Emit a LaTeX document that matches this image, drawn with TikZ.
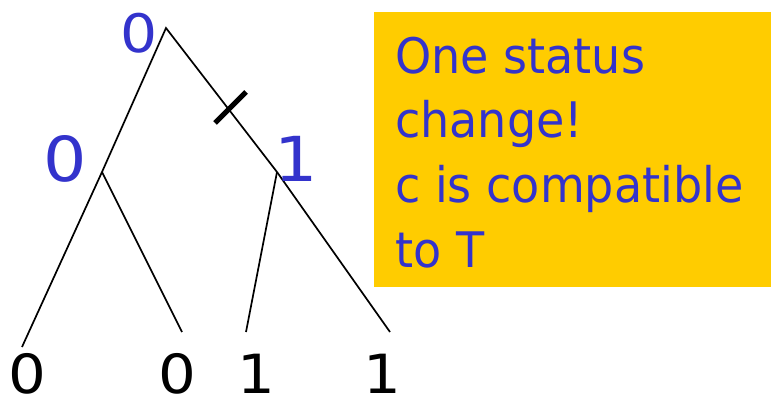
\documentclass[tikz,border=0pt]{standalone}
\usepackage{fontspec}
\setmainfont{DejaVu Sans}
\newfontfamily\notefont[FakeStretch=0.94]{DejaVu Sans}
\newfontfamily\digitfont[FakeStretch=1.1]{DejaVu Sans}
\definecolor{lblue}{HTML}{3333CC}
\definecolor{gold}{HTML}{FFCC00}
\begin{document}
\begin{tikzpicture}[x=1pt,y=-1pt,
  edge/.style={draw=black,line width=1.7pt},
  tick/.style={draw=black,line width=5pt},
  inner/.style={text=lblue,inner sep=0pt,anchor=base},
  leaf/.style={text=black,inner sep=0pt,anchor=base,font=\digitfont\fontsize{54}{60}\selectfont},
  note/.style={text=lblue,inner sep=0pt,anchor=base west,font=\notefont\fontsize{49}{60}\selectfont}]
\useasboundingbox (0,0) rectangle (771,406);
\fill[gold] (374,12) rectangle (771,287);
\coordinate (r) at (166,28);
\coordinate (a) at (102,172);
\coordinate (b) at (277,172);
\coordinate (l1) at (22,347);
\coordinate (l2) at (182,332);
\coordinate (l3) at (246,332);
\coordinate (l4) at (390,332);
\draw[edge] (l1) -- (a) -- (r) -- (b) -- (l4);
\draw[edge] (a) -- (l2);
\draw[edge] (b) -- (l3);
\coordinate (t1) at (215,123);
\coordinate (t2) at (246,92);
\draw[tick] (t1) -- (t2);
\node[inner,font=\digitfont\fontsize{53}{60}\selectfont] (rl) at (139,53) {0};
\node[inner,font=\digitfont\fontsize{62}{70}\selectfont] (al) at (65,182) {0};
\node[inner,font=\digitfont\fontsize{62}{70}\selectfont] (bl) at (296,182) {1};
\node[leaf] (n1) at (27,393) {0};
\node[leaf] (n2) at (177,393) {0};
\node[leaf] (n3) at (256,393) {1};
\node[leaf] (n4) at (382,393) {1};
\node[note] (s1) at (395,74) {One status};
\node[note] (s2) at (395,138) {change!};
\node[note] (s3) at (395,203) {c is compatible};
\node[note] (s4) at (395,267) {to T};
\end{tikzpicture}
\end{document}
